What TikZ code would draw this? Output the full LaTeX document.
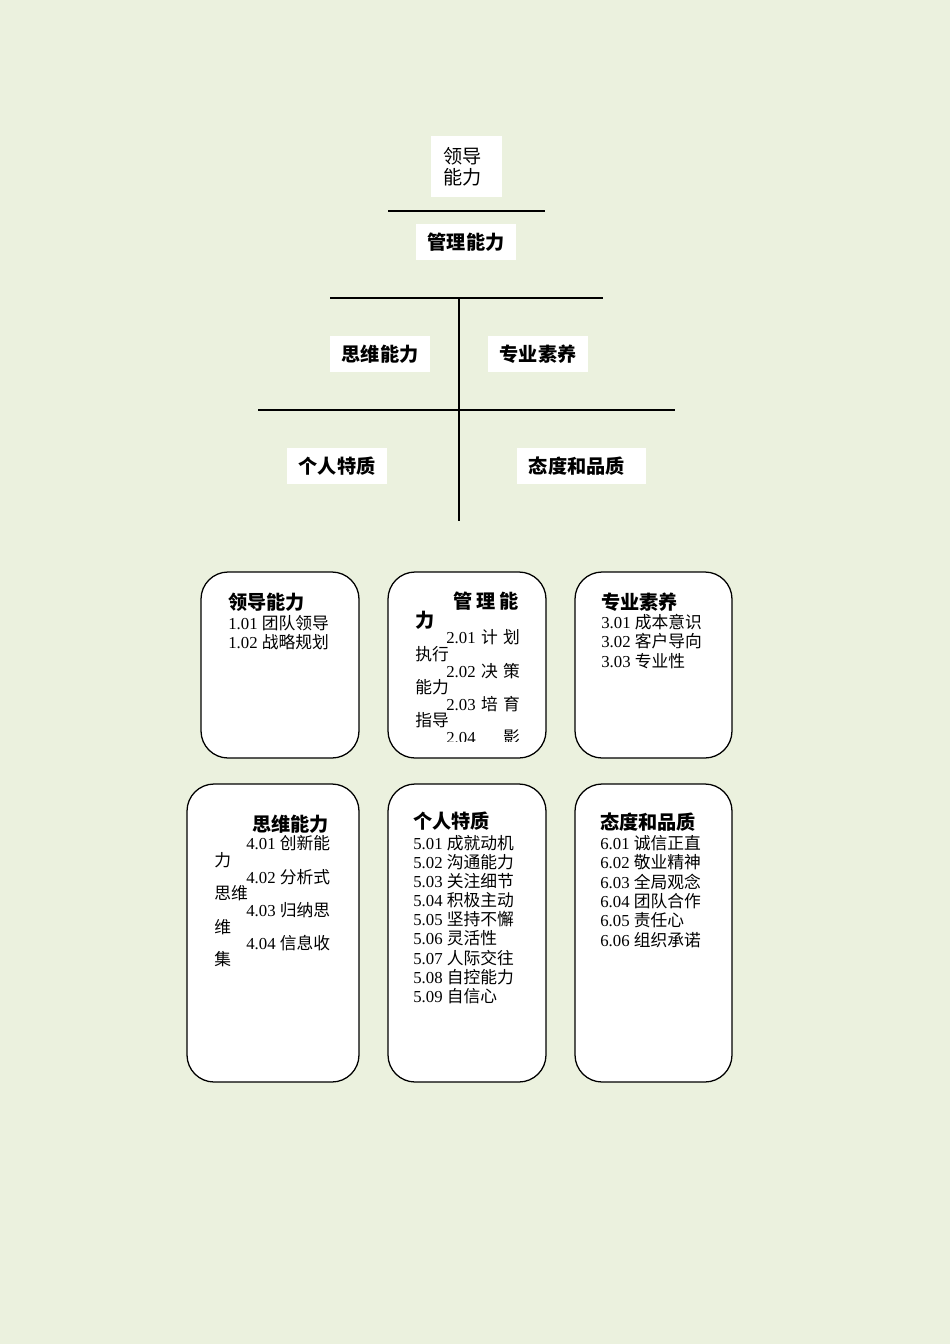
\documentclass[tikz,border=0pt]{standalone}
\usepackage{fontspec}
\setmainfont{Liberation Serif}
\newfontfamily\cjk{Noto Sans CJK SC}
\definecolor{pagebg}{HTML}{EBF1DE}
\newcommand\itm[2]{#1 {\cjk #2}}
\tikzset{
  topbox/.style={fill=white,inner sep=0pt,font=\cjk\bfseries\fontsize{12}{14}\selectfont},
  card/.style={draw=black,fill=white,line width=0.8pt,rounded corners=17pt},
  head/.style={anchor=west,inner sep=0pt,font=\cjk\bfseries\fontsize{12}{14}\selectfont},
  item/.style={anchor=west,inner sep=0pt,font=\fontsize{10.5}{12}\selectfont},
  bar/.style={line width=1.3pt},
}
\begin{document}
\begin{tikzpicture}[x=0.6263pt,y=-0.6263pt]
    \fill[pagebg] (0,0) rectangle (950,1344);
    \useasboundingbox (0,0) rectangle (950,1344);

    % top: levels
    \node[topbox,font=\cjk\fontsize{12}{13.2}\selectfont,align=left,inner xsep=7.5pt,text width=29.4pt,minimum height=38.2pt] (lead) at (466.5,166.5) {领导\\能力};
    \node[topbox,minimum width=62.6pt,minimum height=22.5pt] (mgmt) at (466,242) {管理能力};
    \node[topbox,minimum width=62.6pt,minimum height=22.5pt] (think) at (380,354) {思维能力};
    \node[topbox,minimum width=62.6pt,minimum height=22.5pt] (prof) at (538,354) {专业素养};
    \node[topbox,minimum width=62.6pt,minimum height=22.5pt] (pers) at (337,466) {个人特质};
    \node[topbox,align=left,inner xsep=7.5pt,text width=65.8pt,minimum height=22.5pt] (att) at (581.5,466) {态度和品质};

    \coordinate (top) at (459,298);
    \coordinate (mid) at (459,410);
    \coordinate (bot) at (459,521);
    \draw[bar] (388,211) -- (545,211);
    \draw[bar] (330,298) -- (603,298);
    \draw[bar] (258,410) -- (675,410);
    \draw[line width=0.8pt] (top) -- (mid) -- (bot);

    % cards, row 1
    \draw[card] (201,572) rectangle (359,758);
    \draw[card] (388,572) rectangle (546,758);
    \draw[card] (575,572) rectangle (732,758);
    % cards, row 2
    \draw[card] (187,784) rectangle (359,1082);
    \draw[card] (388,784) rectangle (546,1082);
    \draw[card] (575,784) rectangle (732,1082);

    % card 1
    \node[head] (h1) at (228,602.5) {领导能力};
    \node[item] (a1) at (228,623) {\itm{1.01}{团队领导}};
    \node[item] (a2) at (228,642) {\itm{1.02}{战略规划}};

    % card 2
    \node[head] (h2) at (453,601) {\makebox[41pt][s]{管 理 能}};
    \node[head] (h2b) at (415,620) {力};
    \node[item] (b1) at (446,637) {\makebox[46pt][s]{2.01 {\cjk 计 划}}};
    \node[item] (b1b) at (415,654) {\cjk 执行};
    \node[item] (b2) at (446,671) {\makebox[46pt][s]{2.02 {\cjk 决 策}}};
    \node[item] (b2b) at (415,687) {\cjk 能力};
    \node[item] (b3) at (446,704) {\makebox[46pt][s]{2.03 {\cjk 培 育}}};
    \node[item] (b3b) at (415,720) {\cjk 指导};
    \begin{scope}
      \clip (388,572) rectangle (546,741);
      \node[item] (b4) at (446,737) {\makebox[46pt][s]{2.04 {\cjk 影}}};
    \end{scope}

    % card 3
    \node[head] (h3) at (601,602) {专业素养};
    \foreach \n/\t [count=\k from 0] in {3.01/成本意识,3.02/客户导向,3.03/专业性}
      \node[item] (c\k) at (601,{622+19.5*\k}) {\itm{\n}{\t}};

    % card 4
    \node[head] (h4) at (252,824) {思维能力};
    \node[item] (d1) at (246,843) {\itm{4.01}{创新能}};
    \node[item] (d1b) at (214,860) {\cjk 力};
    \node[item] (d2) at (246,877) {\itm{4.02}{分析式}};
    \node[item] (d2b) at (214,893) {\cjk 思维};
    \node[item] (d3) at (246,910) {\itm{4.03}{归纳思}};
    \node[item] (d3b) at (214,927) {\cjk 维};
    \node[item] (d4) at (246,943) {\itm{4.04}{信息收}};
    \node[item] (d4b) at (214,959) {\cjk 集};

    % card 5
    \node[head] (h5) at (413,821) {个人特质};
    \foreach \n/\t [count=\k from 0] in {5.01/成就动机,5.02/沟通能力,5.03/关注细节,5.04/积极主动,5.05/坚持不懈,5.06/灵活性,5.07/人际交往,5.08/自控能力,5.09/自信心}
      \node[item] (e\k) at (413,{843+19.1*\k}) {\itm{\n}{\t}};

    % card 6
    \node[head] (h6) at (600,822) {态度和品质};
    \foreach \n/\t [count=\k from 0] in {6.01/诚信正直,6.02/敬业精神,6.03/全局观念,6.04/团队合作,6.05/责任心,6.06/组织承诺}
      \node[item] (f\k) at (600,{843+19.4*\k}) {\itm{\n}{\t}};
\end{tikzpicture}
\end{document}
